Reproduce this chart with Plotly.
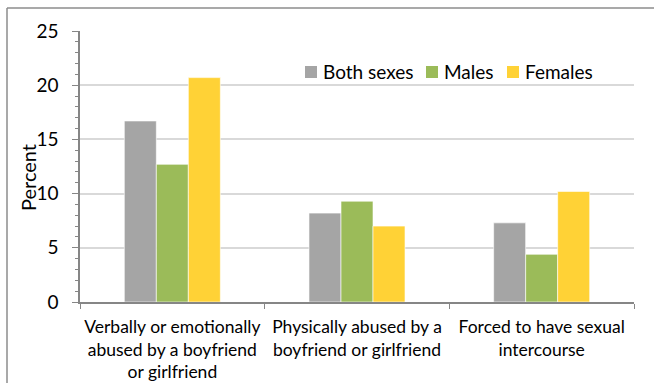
import plotly.graph_objects as go

categories = [
    "Verbally or emotionally<br>abused by a boyfriend<br>or girlfriend",
    "Physically abused by a<br>boyfriend or girlfriend",
    "Forced to have sexual<br>intercourse",
]
series_names = ["Both sexes", "Males", "Females"]
both_sexes = [16.7, 8.2, 7.3]
males = [12.7, 9.3, 4.4]
females = [20.7, 7.0, 10.2]
y_ticks = [0, 5, 10, 15, 20, 25]

colors = ["#A5A5A5", "#9BBB59", "#FFD236"]
values = [both_sexes, males, females]

fig = go.Figure()
for name, vals, color in zip(series_names, values, colors):
    fig.add_trace(go.Bar(
        x=categories, y=vals, name=name, showlegend=False,
        marker=dict(color=color, line=dict(color="rgba(255,255,255,0.6)", width=1)),
    ))

W, H = 654, 383
L, R, T, B = 80, 20, 31, 81
pw, ph = W - L - R, H - T - B


def px(x):
    return (x - L) / pw


def py(y):
    return (T + ph - y) / ph


font = "Lato, sans-serif"

# legend (swatches + labels) placed inside plot area, top right
legend_sq_x = [305, 426, 507]
legend_y = 72
shapes = []
annotations = []
for name, color, sx in zip(series_names, colors, legend_sq_x):
    shapes.append(dict(type="rect", xref="paper", yref="paper",
                       x0=px(sx), x1=px(sx + 12), y0=py(legend_y + 6), y1=py(legend_y - 6),
                       fillcolor=color, line=dict(width=0)))
    annotations.append(dict(text=name, xref="paper", yref="paper",
                            x=px(sx + 16), y=py(legend_y), xanchor="left", yanchor="middle",
                            showarrow=False, font=dict(size=19, family=font, color="#000000")))

annotations.append(dict(text="Percent", xref="paper", yref="paper",
                        x=px(28), y=py(178), textangle=-90, xanchor="center", yanchor="middle",
                        showarrow=False, font=dict(size=20, family=font, color="#000000")))

# outer chart frame (left and top edges visible)
shapes += [
    dict(type="line", xref="paper", yref="paper",
         x0=px(7), x1=px(W + 10), y0=py(8), y1=py(8),
         line=dict(color="#8C8C8C", width=1.5)),
    dict(type="line", xref="paper", yref="paper",
         x0=px(7), x1=px(7), y0=py(8), y1=py(H + 10),
         line=dict(color="#8C8C8C", width=1.5)),
]

fig.update_layout(
    width=W, height=H,
    margin=dict(l=L, r=R, t=T, b=B, autoexpand=False),
    paper_bgcolor="white", plot_bgcolor="white",
    barmode="group", bargap=0.48, bargroupgap=0,
    font=dict(family=font, size=16, color="#000000"),
    showlegend=False,
    xaxis=dict(
        type="category", tickson="boundaries", ticks="outside", ticklen=5,
        tickcolor="#868686", showline=True, linecolor="#868686", linewidth=1.5,
        tickfont=dict(size=17.5), showgrid=False, ticklabelstandoff=8,
        tickangle=0, automargin=False,
    ),
    yaxis=dict(
        range=[0, 25], tickvals=y_ticks, ticks="outside", ticklen=6,
        tickcolor="#868686", showline=True, linecolor="#868686", linewidth=1.5,
        gridcolor="#D9D9D9", gridwidth=1.5, zeroline=False,
        tickfont=dict(size=19), ticklabelstandoff=10, automargin=False,
        minor=dict(dtick=1, ticks="outside", ticklen=3, tickcolor="#868686", showgrid=False),
    ),
    shapes=shapes,
    annotations=annotations,
)

fig.write_html("out.html", config={"displayModeBar": False},
               post_script="document.body.style.margin='0';")
